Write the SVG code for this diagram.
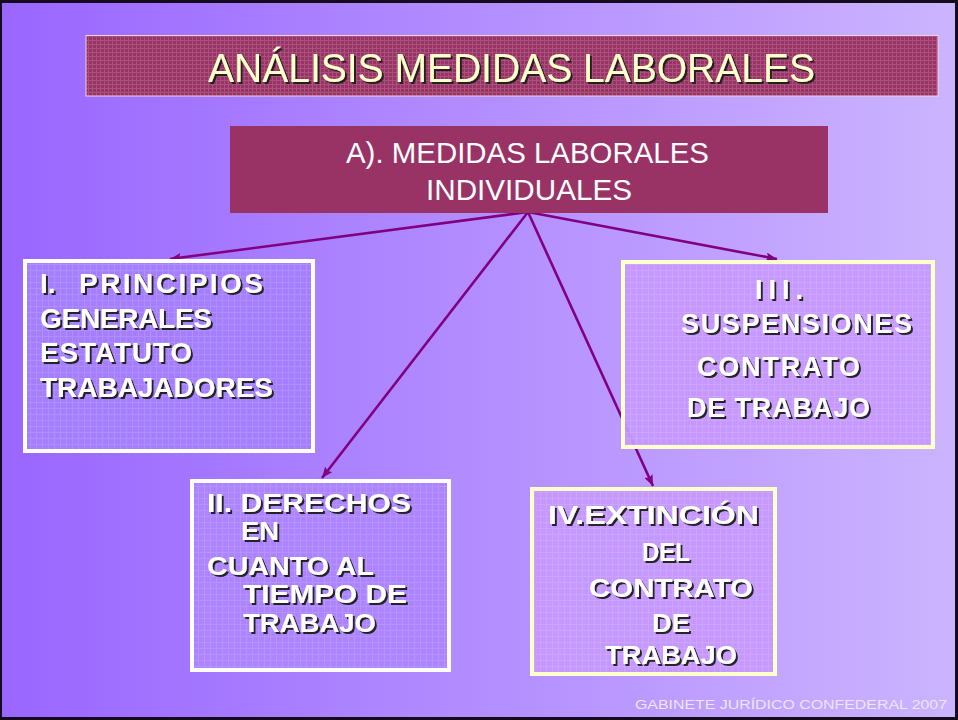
<svg xmlns="http://www.w3.org/2000/svg" width="958" height="720" viewBox="0 0 958 720">
<defs>
<linearGradient id="bg" x1="0" y1="0" x2="1" y2="0">
<stop offset="0" stop-color="#9966ff"/>
<stop offset="1" stop-color="#ccb4ff"/>
</linearGradient>
<pattern id="gridTitle" width="4" height="4" patternUnits="userSpaceOnUse">
<rect width="4" height="4" fill="#993366"/>
<path d="M0,0.5 H4 M0.5,0 V4" stroke="#b0668a" stroke-width="1" opacity="0.6"/>
</pattern>
<pattern id="gridBox" width="6" height="6" patternUnits="userSpaceOnUse">
<path d="M0,0.5 H6 M0.5,0 V6" stroke="#ffffff" stroke-width="1" opacity="0.12"/>
</pattern>
<marker id="arr" markerUnits="userSpaceOnUse" markerWidth="12" markerHeight="9" refX="11" refY="4.5" orient="auto">
<path d="M0,0 L11,4.5 L0,9 L2,4.5 Z" fill="#800080"/>
</marker>
<filter id="sh" x="-10%" y="-20%" width="120%" height="150%">
<feDropShadow dx="2" dy="2" stdDeviation="0.3" flood-color="#1a1a1a" flood-opacity="0.95"/>
</filter>
</defs>
<style>
.bold{font-family:"Liberation Sans",Arial,sans-serif;font-weight:bold;fill:#ffffff;filter:url(#sh)}
.cond{font-family:"Liberation Sans",Arial,sans-serif;fill:#ffffff}
.conn{stroke:#800080;stroke-width:2.6;fill:none;marker-end:url(#arr)}
.wbox{stroke:#ffffff;stroke-width:4}
.ybox{stroke:#ffffcc;stroke-width:4}
</style>
<rect x="0" y="0" width="958" height="720" fill="#140c1c"/>
<rect x="2" y="3" width="953" height="714" fill="url(#bg)"/>

<g id="title">
<rect x="86" y="35.5" width="852" height="60.5" fill="url(#gridTitle)" stroke="#f0d0e0" stroke-width="1"/>
<text x="208" y="82" font-family="'Liberation Sans',Arial,sans-serif" font-size="40" fill="#ffffcc" filter="url(#sh)" textLength="607" lengthAdjust="spacingAndGlyphs">ANÁLISIS MEDIDAS LABORALES</text>
</g>

<g id="connectors">
<line class="conn" x1="528" y1="212" x2="170" y2="259"/>
<line class="conn" x1="528" y1="212" x2="322" y2="478"/>
<line class="conn" x1="528" y1="212" x2="777" y2="259"/>
<line class="conn" x1="528" y1="212" x2="653" y2="486"/>
</g>

<g id="nodeA">
<rect x="230" y="126" width="598" height="87" fill="#993366"/>
<text class="cond" x="346" y="163" font-size="29.5" textLength="363" lengthAdjust="spacingAndGlyphs">A). MEDIDAS LABORALES</text>
<text class="cond" x="426" y="200" font-size="29.5" textLength="206" lengthAdjust="spacingAndGlyphs">INDIVIDUALES</text>
</g>

<g id="nodeI">
<rect class="wbox" x="25" y="261" width="288" height="190" fill="#a47eff"/>
<rect x="27" y="263" width="284" height="186" fill="url(#gridBox)"/>
<text class="bold" y="293" font-size="28"><tspan x="40">I.</tspan><tspan x="79" textLength="184">PRINCIPIOS</tspan></text>
<text class="bold" x="40" y="328" font-size="28" textLength="172">GENERALES</text>
<text class="bold" x="40" y="362" font-size="28" textLength="152">ESTATUTO</text>
<text class="bold" x="40" y="397" font-size="28" textLength="233">TRABAJADORES</text>
</g>

<g id="nodeII">
<rect class="wbox" x="192" y="481" width="257" height="189" fill="#ac84ff"/>
<rect x="194" y="483" width="253" height="185" fill="url(#gridBox)"/>
<text class="bold" x="207" y="512" font-size="26" textLength="204" lengthAdjust="spacingAndGlyphs">II. DERECHOS</text>
<text class="bold" x="241" y="540" font-size="26" textLength="38" lengthAdjust="spacingAndGlyphs">EN</text>
<text class="bold" x="207" y="575" font-size="26" textLength="167" lengthAdjust="spacingAndGlyphs">CUANTO AL</text>
<text class="bold" x="243" y="603" font-size="26" textLength="164" lengthAdjust="spacingAndGlyphs">TIEMPO DE</text>
<text class="bold" x="243" y="632" font-size="26" textLength="133" lengthAdjust="spacingAndGlyphs">TRABAJO</text>
</g>

<g id="nodeIII">
<rect class="ybox" x="623" y="262" width="310" height="185" fill="#c698ff" fill-opacity="0.93"/>
<rect x="625" y="264" width="306" height="181" fill="url(#gridBox)"/>
<text class="bold" x="755" y="299" font-size="27" textLength="48">III.</text>
<text class="bold" x="681" y="333" font-size="27" textLength="231">SUSPENSIONES</text>
<text class="bold" x="697" y="376" font-size="27" textLength="163">CONTRATO</text>
<text class="bold" x="687" y="417" font-size="27" textLength="183">DE TRABAJO</text>
</g>

<g id="nodeIV">
<rect class="ybox" x="532" y="489" width="243" height="185" fill="#c698ff" fill-opacity="0.93"/>
<rect x="534" y="491" width="239" height="181" fill="url(#gridBox)"/>
<text class="bold" x="548" y="524" font-size="26" textLength="211" lengthAdjust="spacingAndGlyphs">IV.EXTINCIÓN</text>
<text class="bold" x="642" y="561" font-size="26" textLength="48" lengthAdjust="spacingAndGlyphs">DEL</text>
<text class="bold" x="589" y="597" font-size="26" textLength="164" lengthAdjust="spacingAndGlyphs">CONTRATO</text>
<text class="bold" x="652" y="632" font-size="26" textLength="38" lengthAdjust="spacingAndGlyphs">DE</text>
<text class="bold" x="605" y="664" font-size="26" textLength="132" lengthAdjust="spacingAndGlyphs">TRABAJO</text>
</g>

<g id="footer">
<text x="635" y="709" font-family="'Liberation Sans',Arial,sans-serif" font-size="12.5" fill="#ece6ff" textLength="312" lengthAdjust="spacingAndGlyphs">GABINETE JURÍDICO CONFEDERAL 2007</text>
</g>
</svg>
